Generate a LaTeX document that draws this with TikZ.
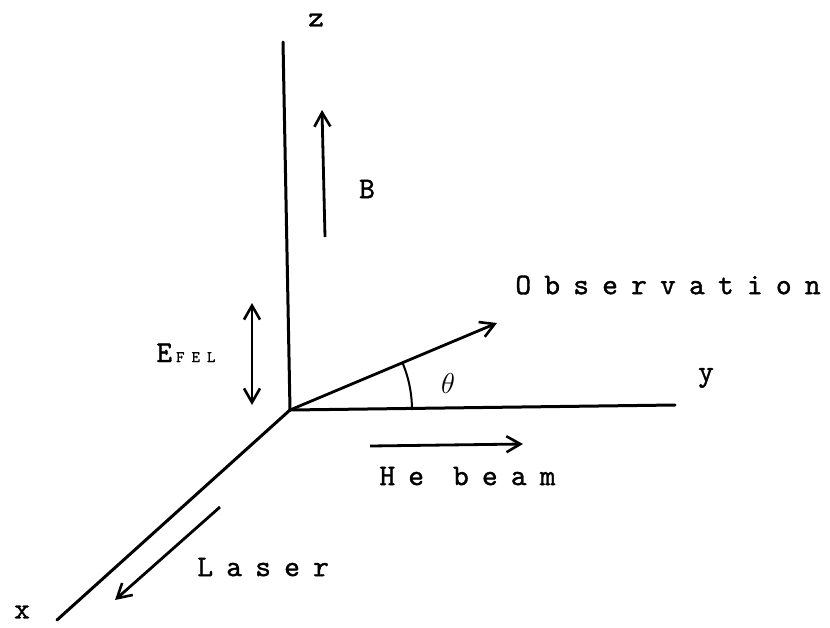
\documentclass[tikz,border=0pt]{standalone}
\usepackage{fontspec}
\usepackage{tikz}
\usetikzlibrary{arrows.meta,positioning,calc}
\newfontfamily\maquina[LetterSpace=44,FakeBold=1.2]{lmmono10-regular.otf}
\newfontfamily\maquinafija[FakeBold=1.2]{lmmono10-regular.otf}
\tikzset{
  eje/.style={line width=1.5pt,line cap=round},
  flecha/.style={-{Straight Barb[length=7pt,width=8pt,line width=1.3pt]},line width=1.4pt},
  dflecha/.style={{Straight Barb[length=7pt,width=8pt,line width=1.3pt]}-{Straight Barb[length=7pt,width=8pt,line width=1.3pt]},line width=1.4pt},
  rotulo/.style={font=\maquina\fontsize{15}{16}\selectfont,inner sep=0pt},
  letra/.style={font=\maquinafija\fontsize{15}{16}\selectfont,inner sep=0pt},
}
\begin{document}
\begin{tikzpicture}[x=0.5pt,y=-0.5pt]
  \useasboundingbox (0,0) rectangle (830,627);
  \coordinate (o) at (290,410);
  \coordinate (zfin) at (283,42);
  \coordinate (yfin) at (675,405);
  \coordinate (xfin) at (57,620);
  \draw[eje] (o) -- (zfin);
  \draw[eje] (o) -- (yfin);
  \draw[eje] (o) -- (xfin);
  \node[letra] (zlab) at (316,20) {z};
  \node[letra] (ylab) at (706,378) {y};
  \node[letra] (xlab) at (22,612) {x};
  \coordinate (b1) at (325,237);
  \coordinate (b2) at (322,110);
  \draw[flecha] (b1) -- (b2);
  \node[letra] (blab) at (367,189) {B};
  \coordinate (e1) at (252,303);
  \coordinate (e2) at (252,405);
  \draw[dflecha] (e1) -- (e2);
  \node[letra,anchor=base west] (elab) at (156,362) {E\kern2pt{\maquina\fontsize{8}{8}\selectfont FEL}};
  \coordinate (obs) at (497,323);
  \draw[flecha] (o) -- (obs);
  \node[rotulo,anchor=west] (obslab) at (515,285) {Observation};
  \draw[line width=1pt] ($(o)+(122,0)$) arc[start angle=0,end angle=-22.8,radius=122];
  \node[font=\fontsize{14}{14}\selectfont,inner sep=0pt] (theta) at (448,383) {$\theta$};
  \coordinate (h1) at (370,446);
  \coordinate (h2) at (523,444);
  \draw[flecha] (h1) -- (h2);
  \node[rotulo,anchor=west] (hlab) at (379,476) {He beam};
  \coordinate (l1) at (220,507);
  \coordinate (l2) at (115,600);
  \draw[flecha] (l1) -- (l2);
  \node[rotulo,anchor=west] (llab) at (197,567) {Laser};
\end{tikzpicture}
\end{document}
